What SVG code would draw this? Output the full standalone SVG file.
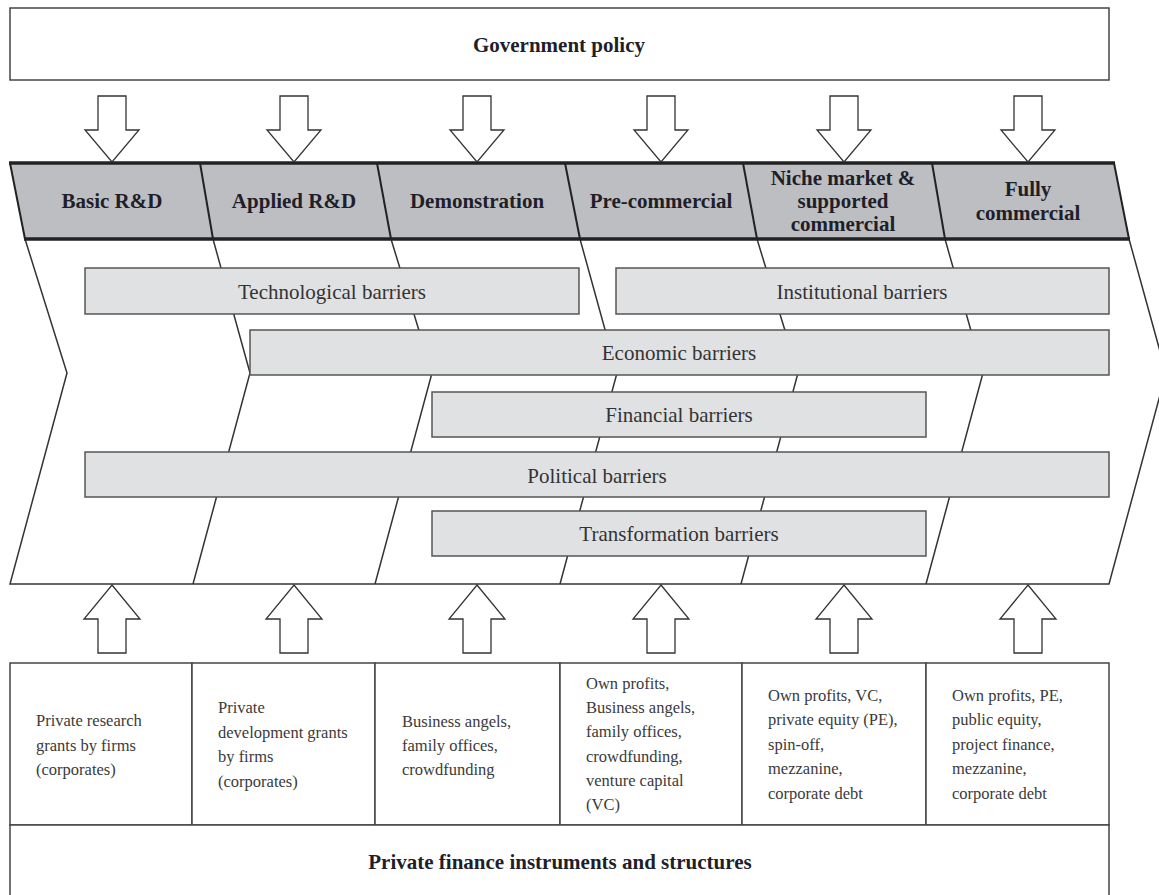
<svg xmlns="http://www.w3.org/2000/svg" xmlns:xlink="http://www.w3.org/1999/xlink" width="1159" height="895" viewBox="0 0 1159 895">
<defs>
<style>
.box{fill:#fff;stroke:#444;stroke-width:1.5}
.bar{fill:#e0e1e3;stroke:#555;stroke-width:1.5}
.line{fill:none;stroke:#333;stroke-width:1.5}
.arrow{fill:#fff;stroke:#333;stroke-width:1.3;stroke-linejoin:miter}
.hd{fill:#bdbec2;stroke:none}
.hdl{fill:none;stroke:#222;stroke-width:2}
.hdt{fill:none;stroke:#222;stroke-width:3.5}
.bt{font-family:"Liberation Serif","Times New Roman",serif;font-weight:bold;font-size:21px;fill:#1f1f2a;text-anchor:middle}
.br{font-family:"Liberation Serif","Times New Roman",serif;font-size:21px;fill:#333;text-anchor:middle}
.sm{font-family:"Liberation Serif","Times New Roman",serif;font-size:16.5px;fill:#3a3a3a}
</style>
<path id="down" d="M-14,0 H14 V34 H27 L0,66 L-27,34 H-14 Z"/>
<path id="up" d="M0,0 L28,34 H14 V68 H-14 V34 H-28 Z"/>
</defs>
<rect width="1159" height="895" fill="#fff"/>

<g id="government-policy">
<rect class="box" x="10" y="8" width="1099" height="72"/>
<text class="bt" x="559" y="52">Government policy</text>
</g>

<g id="chevron-stages">
<path class="line" d="M25,239 L67,373 L10,584 H1109 L1166,373 L1129,239" fill="#fff"/>
<polyline class="line" points="213,239 250,373 193,584"/>
<polyline class="line" points="391,239 432,373 375,584"/>
<polyline class="line" points="580,239 617,373 560,584"/>
<polyline class="line" points="757,239 798,373 741,584"/>
<polyline class="line" points="945,239 983,373 926,584"/>
</g>

<g id="header-band">
<polygon class="hd" points="10,163 1114,163 1129,239 25,239"/>
<line class="hdl" x1="10" y1="163" x2="25" y2="239"/>
<line class="hdl" x1="200" y1="163" x2="213" y2="239"/>
<line class="hdl" x1="377" y1="163" x2="391" y2="239"/>
<line class="hdl" x1="565" y1="163" x2="580" y2="239"/>
<line class="hdl" x1="743" y1="163" x2="757" y2="239"/>
<line class="hdl" x1="932" y1="163" x2="945" y2="239"/>
<line class="hdl" x1="1114" y1="163" x2="1129" y2="239"/>
<line class="hdt" x1="9" y1="163" x2="1115" y2="163"/>
<line class="hdt" x1="24" y1="239" x2="1130" y2="239"/>
</g>
<g id="stage-basic-rd"><text class="bt" x="112" y="208">Basic R&amp;D</text></g>
<g id="stage-applied-rd"><text class="bt" x="294" y="208">Applied R&amp;D</text></g>
<g id="stage-demonstration"><text class="bt" x="477" y="208">Demonstration</text></g>
<g id="stage-pre-commercial"><text class="bt" x="661" y="208">Pre-commercial</text></g>
<g id="stage-niche-market"><text class="bt" x="843" y="185">Niche market &amp;</text><text class="bt" x="843" y="208">supported</text><text class="bt" x="843" y="231">commercial</text></g>
<g id="stage-fully-commercial"><text class="bt" x="1028" y="196">Fully</text><text class="bt" x="1028" y="220">commercial</text></g>

<g id="technological-barriers"><rect class="bar" x="85" y="268" width="494" height="46"/><text class="br" x="332" y="299">Technological barriers</text></g>
<g id="institutional-barriers"><rect class="bar" x="616" y="268" width="493" height="46"/><text class="br" x="862" y="299">Institutional barriers</text></g>
<g id="economic-barriers"><rect class="bar" x="250" y="330" width="859" height="45"/><text class="br" x="679" y="360">Economic barriers</text></g>
<g id="financial-barriers"><rect class="bar" x="432" y="392" width="494" height="45"/><text class="br" x="679" y="422">Financial barriers</text></g>
<g id="political-barriers"><rect class="bar" x="85" y="452" width="1024" height="45"/><text class="br" x="597" y="483">Political barriers</text></g>
<g id="transformation-barriers"><rect class="bar" x="432" y="511" width="494" height="45"/><text class="br" x="679" y="541">Transformation barriers</text></g>

<g id="connectors">
<use href="#down" xlink:href="#down" class="arrow" transform="translate(112,96)"/>
<use href="#down" xlink:href="#down" class="arrow" transform="translate(294,96)"/>
<use href="#down" xlink:href="#down" class="arrow" transform="translate(477,96)"/>
<use href="#down" xlink:href="#down" class="arrow" transform="translate(661,96)"/>
<use href="#down" xlink:href="#down" class="arrow" transform="translate(844,96)"/>
<use href="#down" xlink:href="#down" class="arrow" transform="translate(1028,96)"/>
<use href="#up" xlink:href="#up" class="arrow" transform="translate(112,585)"/>
<use href="#up" xlink:href="#up" class="arrow" transform="translate(294,585)"/>
<use href="#up" xlink:href="#up" class="arrow" transform="translate(477,585)"/>
<use href="#up" xlink:href="#up" class="arrow" transform="translate(661,585)"/>
<use href="#up" xlink:href="#up" class="arrow" transform="translate(844,585)"/>
<use href="#up" xlink:href="#up" class="arrow" transform="translate(1028,585)"/>
</g>

<g id="finance-basic-rd">
<rect class="box" x="10" y="663" width="182" height="162"/>
<text class="sm" x="36" y="726">Private research</text>
<text class="sm" x="36" y="751">grants by firms</text>
<text class="sm" x="36" y="775">(corporates)</text>
</g>
<g id="finance-applied-rd">
<rect class="box" x="192" y="663" width="183" height="162"/>
<text class="sm" x="218" y="713">Private</text>
<text class="sm" x="218" y="738">development grants</text>
<text class="sm" x="218" y="762">by firms</text>
<text class="sm" x="218" y="787">(corporates)</text>
</g>
<g id="finance-demonstration">
<rect class="box" x="375" y="663" width="185" height="162"/>
<text class="sm" x="402" y="727">Business angels,</text>
<text class="sm" x="402" y="751">family offices,</text>
<text class="sm" x="402" y="775">crowdfunding</text>
</g>
<g id="finance-pre-commercial">
<rect class="box" x="560" y="663" width="182" height="162"/>
<text class="sm" x="586" y="689">Own profits,</text>
<text class="sm" x="586" y="713">Business angels,</text>
<text class="sm" x="586" y="737">family offices,</text>
<text class="sm" x="586" y="762">crowdfunding,</text>
<text class="sm" x="586" y="786">venture capital</text>
<text class="sm" x="586" y="810">(VC)</text>
</g>
<g id="finance-niche-market">
<rect class="box" x="742" y="663" width="184" height="162"/>
<text class="sm" x="768" y="701">Own profits, VC,</text>
<text class="sm" x="768" y="725">private equity (PE),</text>
<text class="sm" x="768" y="750">spin-off,</text>
<text class="sm" x="768" y="774">mezzanine,</text>
<text class="sm" x="768" y="799">corporate debt</text>
</g>
<g id="finance-fully-commercial">
<rect class="box" x="926" y="663" width="183" height="162"/>
<text class="sm" x="952" y="701">Own profits, PE,</text>
<text class="sm" x="952" y="725">public equity,</text>
<text class="sm" x="952" y="750">project finance,</text>
<text class="sm" x="952" y="774">mezzanine,</text>
<text class="sm" x="952" y="799">corporate debt</text>
</g>

<g id="private-finance">
<path class="box" d="M10,900 V825 H1109 V900"/>
<text class="bt" x="560" y="869">Private finance instruments and structures</text>
</g>
</svg>
